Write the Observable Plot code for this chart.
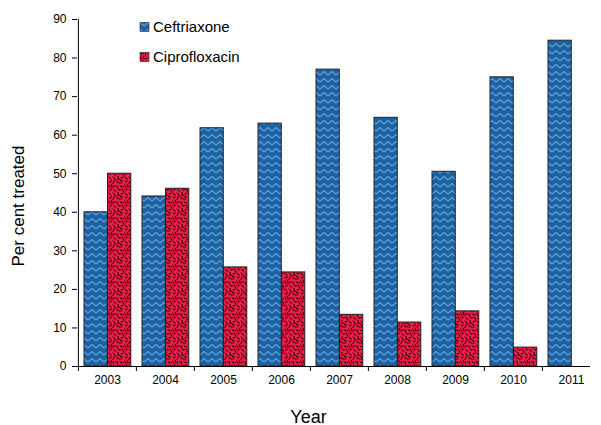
<!DOCTYPE html>
<html>
<head>
<meta charset="utf-8">
<script src="https://cdn.jsdelivr.net/npm/d3@7"></script>
<script src="https://cdn.jsdelivr.net/npm/@observablehq/plot@0.6"></script>
<style>
  html, body { margin: 0; padding: 0; background: #fff; }
  #chart { width: 601px; height: 425px; }
  svg { font-family: "Liberation Sans", Arial, sans-serif; }
</style>
</head>
<body>
<div id="chart"></div>
<script>
const years = ["2003","2004","2005","2006","2007","2008","2009","2010","2011"];
const ceftriaxone = [40, 44.1, 61.8, 63, 77, 64.5, 50.5, 75, 84.5];
const ciprofloxacin = [50, 46.1, 25.7, 24.4, 13.4, 11.4, 14.3, 4.9, null];
const seriesNames = ["Ceftriaxone", "Ciprofloxacin"];
const yTicks = [0, 10, 20, 30, 40, 50, 60, 70, 80, 90];

const rows = years.map((year, i) => ({year, cef: ceftriaxone[i], cip: ciprofloxacin[i]}));

const W = 601, H = 425, mL = 77, mR = 0, mT = 19, mB = 59;
const bw = (W - mL - mR) / years.length;

const chart = Plot.plot({
  width: W,
  height: H,
  marginLeft: mL,
  marginRight: mR,
  marginTop: mT,
  marginBottom: mB,
  style: {fontFamily: "Liberation Sans, Arial, sans-serif", fontSize: "12px", color: "#000", background: "#fff"},
  x: {domain: years, padding: 0, label: null, tickSize: 0, tickPadding: 9},
  y: {domain: [0, 90], ticks: yTicks, label: null, tickSize: 5, tickPadding: 6},
  marks: [
    Plot.barY(rows, {x: "year", y: "cef", fill: "url(#zig)", stroke: "#222", strokeWidth: 1, insetLeft: 6, insetRight: bw - 29.5}),
    Plot.barY(rows.filter(d => d.cip != null), {x: "year", y: "cip", fill: "url(#speck)", stroke: "#222", strokeWidth: 1, insetLeft: 29.5, insetRight: bw - 53}),
    Plot.ruleY([0], {stroke: "#000", insetRight: 11}),
    Plot.ruleX([years[0]], {dx: -bw / 2, stroke: "#000"}),
    Plot.ruleX(years, {x: d => d, dx: -bw / 2, y1: 0, y2: -1.3, stroke: "#000"}),
    Plot.text(["Year"], {frameAnchor: "bottom", dx: -31, dy: 56, fontSize: 18, fill: "#000"}),
    Plot.text(["Per cent treated"], {frameAnchor: "left", textAnchor: "middle", rotate: -90, dx: -59, dy: 13, fontSize: 17, fill: "#000"})
  ]
});

const svg = d3.select(chart);
const defs = svg.insert("defs", ":first-child");
const zig = defs.append("pattern").attr("id", "zig").attr("patternUnits", "userSpaceOnUse")
  .attr("width", 8).attr("height", 7);
zig.append("rect").attr("width", 8).attr("height", 7).attr("fill", "#1c62a3");
zig.append("path").attr("d", "M0,5 L4,1.5 L8,5").attr("fill", "none").attr("stroke", "#62a2dc").attr("stroke-width", 1.3);

const speck = defs.append("pattern").attr("id", "speck").attr("patternUnits", "userSpaceOnUse")
  .attr("width", 16).attr("height", 16);
speck.append("rect").attr("width", 16).attr("height", 16).attr("fill", "#ef1c45");
const dashes = [
  [1,1,3,3],[6,0.5,6,3.5],[9,2,11.5,1],[13,1,15,3.5],
  [2,5,1,8],[4.5,6,7.5,7],[10,4.5,9,7.5],[13,6,15.5,5],
  [0.5,11,3,10],[5,9.5,5.5,12.5],[8,10,11,11],[12.5,9,14,12],
  [3,3.5,4.5,5],[7,3,9,4.5],[15,8,15.5,10.5],[1.5,13.5,4,15.5],
  [6.5,14,9,13.5],[10.5,13,11.5,15.5],[13.5,14.5,15.5,13]
];
speck.selectAll("line").data(dashes).join("line")
  .attr("x1", d => d[0]).attr("y1", d => d[1]).attr("x2", d => d[2]).attr("y2", d => d[3])
  .attr("stroke", "#000").attr("stroke-width", 0.9).attr("stroke-linecap", "round");

// Legend
const legend = svg.append("g").attr("font-family", "Liberation Sans, Arial, sans-serif")
  .attr("font-size", 15).attr("text-anchor", "start");
const fills = ["url(#zig)", "url(#speck)"];
seriesNames.forEach((name, i) => {
  const cy = 27 + i * 30;
  legend.append("rect").attr("x", 140).attr("y", cy - 4.5).attr("width", 9).attr("height", 9)
    .attr("fill", fills[i]).attr("stroke", "#222").attr("stroke-width", 0.6);
  legend.append("text").attr("x", 153).attr("y", cy).attr("dy", "0.36em").attr("fill", "#000").text(name);
});

document.getElementById("chart").appendChild(chart);
</script>
</body>
</html>
